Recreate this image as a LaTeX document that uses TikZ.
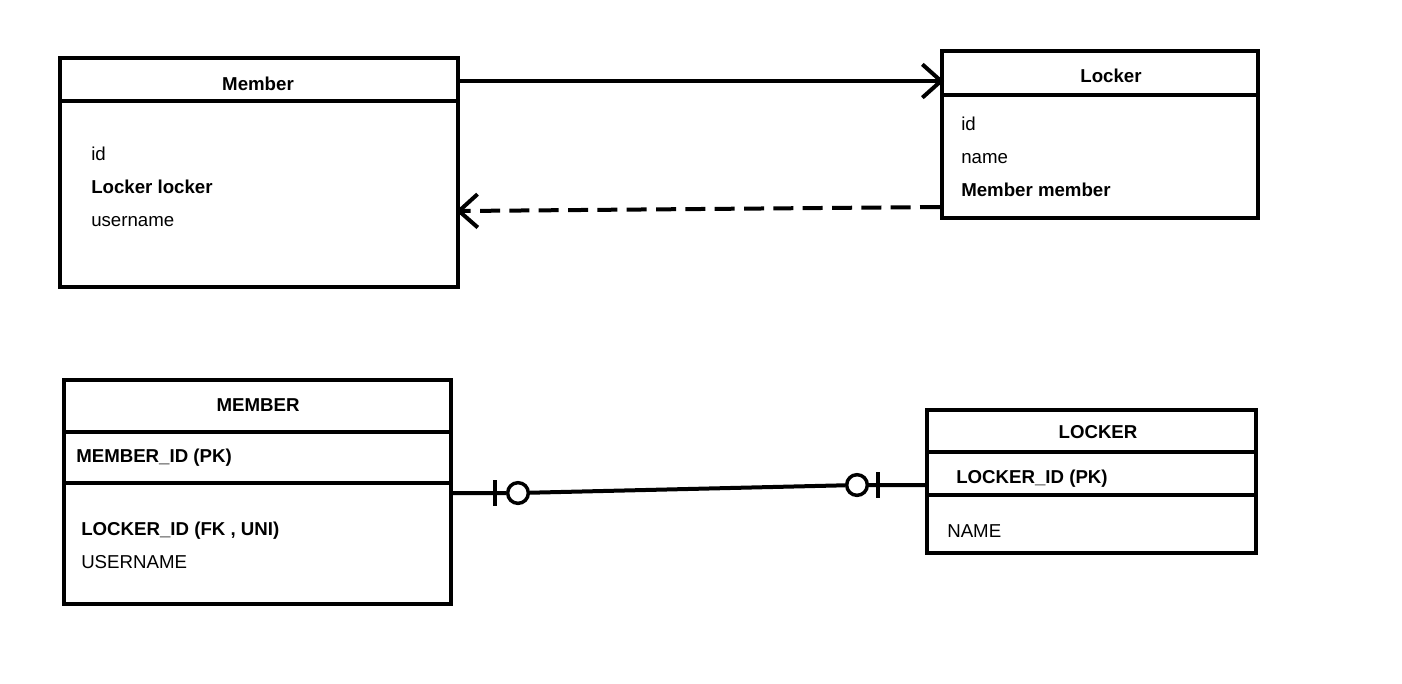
\documentclass[tikz,border=0pt]{standalone}
\usepackage{fontspec}
\setmainfont{Liberation Sans}
\usetikzlibrary{arrows.meta,fit}
\tikzset{
  box/.style={draw, line width=3pt, inner sep=0pt},
  sep/.style={line width=3pt},
  attr/.style={anchor=base west, inner sep=0pt, font=\fontsize{14}{16}\selectfont},
  pkattr/.style={attr, font=\fontsize{14}{16}\selectfont\bfseries},
  hdr/.style={anchor=base, inner sep=0pt, font=\fontsize{14}{16}\selectfont\bfseries},
  rel/.style={line width=3pt, shorten >=-3pt, -{Straight Barb[length=14pt,width=25pt,line width=3pt]}},
  reldash/.style={rel, dash pattern=on 15pt off 7pt},
  ring/.style={draw, circle, line width=2.6pt, minimum size=15.5pt, inner sep=0pt, fill=white},
  bar/.style={fill, rectangle, minimum width=3pt, minimum height=19pt, inner sep=0pt}
}

\begin{document}
\begin{tikzpicture}[x=0.75pt, y=-0.75pt]
\useasboundingbox (0,0) rectangle (1402,683);
% object model
\node[box, fit={(60,58) (458,287)}] (mem) {};
\node[box, fit={(942,51) (1258,218)}] (lock) {};
\draw[sep] (mem.west |- 0,101) -- (mem.east |- 0,101);
\draw[sep] (lock.west |- 0,95) -- (lock.east |- 0,95);
\node[hdr] (memT) at (258,90) {Member};
\node[attr] (memId) at (91,160) {id};
\node[pkattr] (memLk) at (91,193) {Locker locker};
\node[attr] (memUn) at (91,226) {username};
\node[hdr] (lockT) at (1111,82) {Locker};
\node[attr] (lockId) at (961,130) {id};
\node[attr] (lockNm) at (961,163) {name};
\node[pkattr] (lockMb) at (961,196) {Member member};
\draw[rel] (mem.east |- 0,81) -- (lock.west |- 0,81);
\draw[reldash] (lock.west |- 0,207) -- (mem.east |- 0,211);
% tables
\node[box, fit={(64,380) (451,604)}] (MEM) {};
\node[box, fit={(927,410) (1256,553)}] (LCK) {};
\draw[sep] (MEM.west |- 0,432) -- (MEM.east |- 0,432);
\draw[sep] (MEM.west |- 0,483) -- (MEM.east |- 0,483);
\draw[sep] (LCK.west |- 0,452) -- (LCK.east |- 0,452);
\draw[sep] (LCK.west |- 0,495) -- (LCK.east |- 0,495);
\node[hdr] (MEMT) at (258,411) {MEMBER};
\node[pkattr] (MEMId) at (76,462) {MEMBER\_ID (PK)};
\node[pkattr] (MEMFk) at (81,535) {LOCKER\_ID (FK , UNI)};
\node[attr] (MEMUn) at (81,568) {USERNAME};
\node[hdr] (LCKT) at (1098,438) {LOCKER};
\node[pkattr] (LCKId) at (956,483) {LOCKER\_ID (PK)};
\node[attr] (LCKNm) at (947,537) {NAME};
% one-to-one, optional on both sides
\node[bar] (b1) at (495,493) {};
\node[ring] (c1) at (518,493) {};
\node[ring] (c2) at (857,485) {};
\node[bar] (b2) at (878,485) {};
\draw[sep] (MEM.east |- c1) -- (c1) -- (c2) -- (LCK.west |- c2);
\end{tikzpicture}
\end{document}
